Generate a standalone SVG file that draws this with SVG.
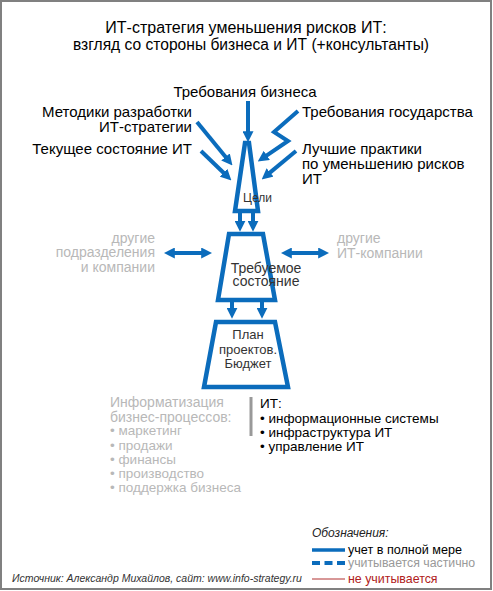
<svg xmlns="http://www.w3.org/2000/svg" width="493" height="591" viewBox="0 0 493 591">
<defs>
<marker id="ah" viewBox="0 0 10 10" refX="2" refY="5" markerWidth="11" markerHeight="11" markerUnits="userSpaceOnUse" orient="auto-start-reverse">
<path d="M0,0 L10,5 L0,10 z" fill="#0b6cbc"/>
</marker>
</defs>
<style>
text{font-family:"Liberation Sans",Arial,sans-serif;}
.t{font-size:15px;fill:#000;}
.g{font-size:14px;fill:#b8b8b8;}
.gs{font-size:13.5px;fill:#b8b8b8;}
.b{font-size:13.5px;fill:#000;}
.c{stroke:#0b6cbc;stroke-width:4;fill:none;marker-end:url(#ah);}
.d{stroke:#0b6cbc;stroke-width:4;fill:none;marker-end:url(#ah);marker-start:url(#ah);}
.box{stroke:#0b6cbc;stroke-width:4.5;fill:#fff;stroke-linejoin:miter;}
</style>
<rect x="1" y="1" width="490" height="588" fill="#fff" stroke="#808080" stroke-width="2"/>
<g id="title">
<text x="246" y="33" text-anchor="middle" font-size="16">ИТ-стратегия уменьшения рисков ИТ:</text>
<text x="251" y="50" text-anchor="middle" font-size="15.6">взгляд со стороны бизнеса и ИТ (+консультанты)</text>
</g>
<g id="inputs">
<text class="t" x="245" y="97" text-anchor="middle">Требования бизнеса</text>
<text class="t" x="192" y="117" text-anchor="end">Методики разработки</text>
<text class="t" x="192" y="132" text-anchor="end">ИТ-стратегии</text>
<text class="t" x="192" y="154" text-anchor="end">Текущее состояние ИТ</text>
<text class="t" x="302" y="117">Требования государства</text>
<text class="t" x="302" y="154">Лучшие практики</text>
<text class="t" x="302" y="169">по уменьшению рисков</text>
<text class="t" x="302" y="184">ИТ</text>
</g>
<g id="connectors">
<line class="c" x1="248" y1="101" x2="248" y2="133.4"/>
<line class="c" x1="197" y1="122" x2="226.9" y2="158.6"/>
<line class="c" x1="201" y1="151" x2="225.1" y2="174.3"/>
<polyline class="c" points="298,111 274,132 288,141 265,156.6"/>
<line class="c" x1="296" y1="151" x2="268.4" y2="173.9"/>
<line class="c" x1="240" y1="212" x2="240" y2="223"/>
<line class="c" x1="253" y1="212" x2="253" y2="223"/>
<line class="c" x1="232" y1="301" x2="232" y2="310"/>
<line class="c" x1="262" y1="301" x2="262" y2="310"/>
<line class="d" x1="172.6" y1="253" x2="203.4" y2="253"/>
<line class="d" x1="289.6" y1="253" x2="320.4" y2="253"/>
</g>
<g id="goals">
<polygon class="box" points="245,143 249,143 258,211 235,211"/>
<text x="243" y="202" font-size="12" fill="#333">Цели</text>
</g>
<g id="target">
<polygon class="box" points="229,234 263,234 275,300 218,300"/>
<text x="266" y="273" text-anchor="middle" font-size="14" fill="#333">Требуемое</text>
<text x="266" y="286" text-anchor="middle" font-size="14" fill="#333">состояние</text>
</g>
<g id="plan">
<polygon class="box" points="216,322 275,322 288,387 204,387"/>
<text x="248" y="339" text-anchor="middle" font-size="13" fill="#333">План</text>
<text x="248" y="354" text-anchor="middle" font-size="13" fill="#333">проектов.</text>
<text x="248" y="368" text-anchor="middle" font-size="13" fill="#333">Бюджет</text>
</g>
<g id="other-units">
<text class="g" x="155" y="243" text-anchor="end">другие</text>
<text class="g" x="155" y="257" text-anchor="end">подразделения</text>
<text class="g" x="155" y="272" text-anchor="end">и компании</text>
</g>
<g id="other-it">
<text class="g" x="337" y="243">другие</text>
<text class="g" x="337" y="258">ИТ-компании</text>
</g>
<g id="business">
<text class="g" x="110" y="407">Информатизация</text>
<text class="g" x="110" y="422">бизнес-процессов:</text>
<text class="gs" x="110" y="435">• маркетинг</text>
<text class="gs" x="110" y="450">• продажи</text>
<text class="gs" x="110" y="464">• финансы</text>
<text class="gs" x="110" y="478">• производство</text>
<text class="gs" x="110" y="492">• поддержка бизнеса</text>
</g>
<line x1="251" y1="397" x2="251" y2="436" stroke="#999" stroke-width="3"/>
<g id="it">
<text class="b" x="260" y="408">ИТ:</text>
<text class="b" x="260" y="423">• информационные системы</text>
<text class="b" x="260" y="437">• инфраструктура ИТ</text>
<text class="b" x="260" y="451">• управление ИТ</text>
</g>
<g id="legend">
<text x="312" y="537" font-size="12" font-style="italic" fill="#222">Обозначения:</text>
<line x1="312" y1="550" x2="345" y2="550" stroke="#0b6cbc" stroke-width="3.5"/>
<text x="348" y="554" font-size="12.6" fill="#000">учет в полной мере</text>
<line x1="312" y1="563" x2="345" y2="563" stroke="#0b6cbc" stroke-width="4" stroke-dasharray="8,4.5"/>
<text x="348" y="567" font-size="12.3" fill="#999">учитывается частично</text>
<line x1="312" y1="579" x2="345" y2="579" stroke="#b03030" stroke-width="1"/>
<text x="348" y="583" font-size="12.4" fill="#b02020">не учитывается</text>
</g>
<text x="12" y="582" font-size="10.5" font-style="italic" fill="#333">Источник: Александр Михайлов, сайт: www.info-strategy.ru</text>
</svg>
